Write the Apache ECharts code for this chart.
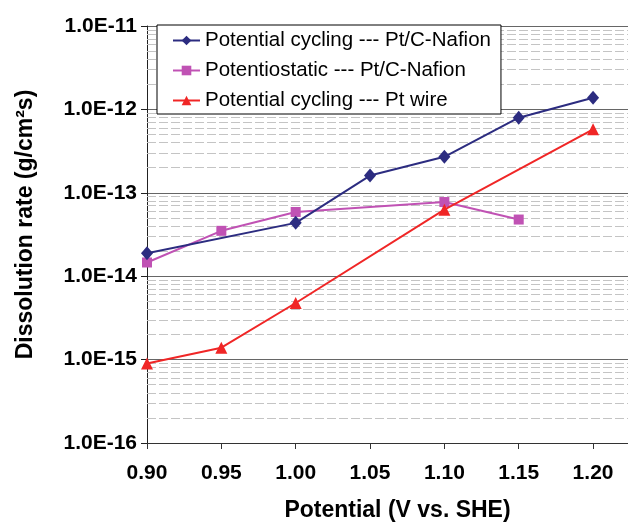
<!DOCTYPE html>
<html>
<head>
<meta charset="utf-8">
<script src="https://cdn.jsdelivr.net/npm/echarts@6/dist/echarts.min.js"></script>
<style>
  html, body { margin: 0; padding: 0; background: #fff; }
  #chart { width: 628px; height: 527px; }
</style>
</head>
<body>
<div id="chart"></div>
<script>
// data
const cyclingNafionX = [0.90, 1.00, 1.05, 1.10, 1.15, 1.20];
const cyclingNafionY = [1.88e-14, 4.36e-14, 1.61e-13, 2.70e-13, 7.96e-13, 1.38e-12];

const staticNafionX = [0.90, 0.95, 1.00, 1.10, 1.15];
const staticNafionY = [1.46e-14, 3.50e-14, 5.89e-14, 7.75e-14, 4.78e-14];

const cyclingWireX = [0.90, 0.95, 1.00, 1.10, 1.20];
const cyclingWireY = [8.96e-16, 1.39e-15, 4.77e-15, 6.28e-14, 5.78e-13];

const seriesNames = [
  'Potential cycling --- Pt/C-Nafion',
  'Potentiostatic --- Pt/C-Nafion',
  'Potential cycling --- Pt wire',
];

const xMin = 0.9;
const xMax = 1.2235;

// minor grid lines (2..9 in each decade)
const decades = [-16, -15, -14, -13, -12];
const minorSteps = [2, 3, 4, 5, 6, 7, 8, 9];
const minorLines = [];
decades.forEach((d) => minorSteps.forEach((m) => minorLines.push(m * Math.pow(10, d))));

const pairs = (xs, ys) => xs.map((x, i) => [x, ys[i]]);

const font = 'Liberation Sans, Arial, sans-serif';

const chart = echarts.init(document.getElementById('chart'));

const option = {
  animation: false,
  grid: {
    left: 147,
    right: 0,
    top: 26,
    bottom: 81,
  },
  legend: {
    orient: 'vertical',
    left: 157,
    top: 25,
    padding: [5, 10, 3, 15],
    itemGap: 9,
    itemWidth: 27,
    itemHeight: 12,
    backgroundColor: '#fff',
    borderColor: '#000',
    borderWidth: 1,
    textStyle: {
      fontFamily: font,
      fontSize: 20.5,
      color: '#000',
    },
    data: seriesNames,
  },
  xAxis: {
    type: 'value',
    min: xMin,
    max: xMax,
    interval: 0.05,
    name: 'Potential (V vs. SHE)',
    nameLocation: 'middle',
    nameGap: 56,
    nameTextStyle: {
      fontFamily: font,
      fontSize: 23,
      fontWeight: 'bold',
      color: '#000',
      padding: [0, 0, 0, 20],
    },
    axisLine: { lineStyle: { color: '#333', width: 1 } },
    axisTick: { show: true, inside: false, length: 6, lineStyle: { color: '#333' } },
    axisLabel: {
      showMaxLabel: false,
      margin: 20,
      fontFamily: font,
      fontSize: 21,
      fontWeight: 'bold',
      color: '#000',
      formatter: (v) => v.toFixed(2),
    },
    splitLine: { show: false },
  },
  yAxis: {
    type: 'log',
    logBase: 10,
    min: 1e-16,
    max: 1e-11,
    interval: 1,
    name: 'Dissolution rate (g/cm²s)',
    nameLocation: 'middle',
    nameGap: 110,
    nameTextStyle: {
      fontFamily: font,
      fontSize: 23,
      fontWeight: 'bold',
      color: '#000',
      padding: [0, 0, 0, 20],
    },
    axisLine: { show: true, lineStyle: { color: '#222', width: 1 } },
    axisTick: { show: true, inside: false, length: 6, lineStyle: { color: '#222' } },
    axisLabel: {
      margin: 10,
      fontFamily: font,
      fontSize: 21,
      fontWeight: 'bold',
      color: '#000',
      formatter: (v) => v.toExponential(1).toUpperCase(),
    },
    splitLine: { show: true, lineStyle: { color: '#666', width: 1 } },
  },
  series: [
    {
      name: 'minor',
      type: 'lines',
      coordinateSystem: 'cartesian2d',
      silent: true,
      z: 1,
      lineStyle: { color: '#c4c4c4', type: [9, 3], width: 1, opacity: 1 },
      data: minorLines.map((v) => ({ coords: [[xMin, v], [xMax, v]] })),
    },
    {
      name: seriesNames[0],
      type: 'line',
      data: pairs(cyclingNafionX, cyclingNafionY),
      symbol: 'diamond',
      symbolSize: [12, 14],
      color: '#2c2c80',
      lineStyle: { width: 2 },
      z: 4,
    },
    {
      name: seriesNames[1],
      type: 'line',
      data: pairs(staticNafionX, staticNafionY),
      symbol: 'rect',
      symbolSize: 10,
      color: '#c052b4',
      lineStyle: { width: 2 },
      z: 3,
    },
    {
      name: seriesNames[2],
      type: 'line',
      data: pairs(cyclingWireX, cyclingWireY),
      symbol: 'triangle',
      symbolSize: 12,
      color: '#f02626',
      lineStyle: { width: 2 },
      z: 5,
    },
  ],
};

chart.setOption(option);
</script>
</body>
</html>
